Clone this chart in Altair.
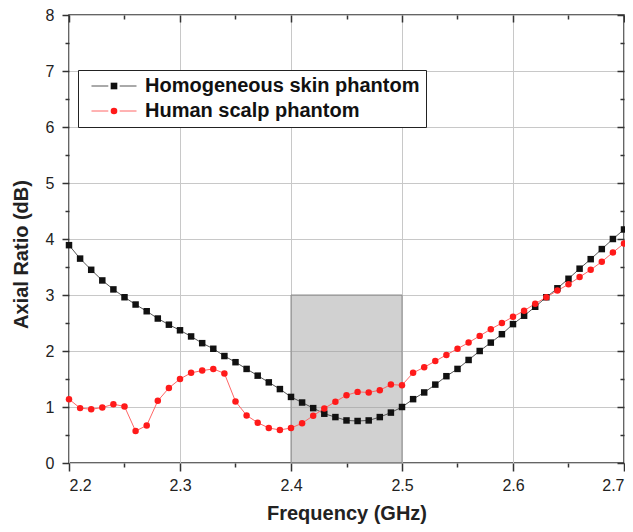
import altair as alt
import pandas as pd

# ---- data ----
freq = [2.20, 2.21, 2.22, 2.23, 2.24, 2.25, 2.26, 2.27, 2.28, 2.29,
        2.30, 2.31, 2.32, 2.33, 2.34, 2.35, 2.36, 2.37, 2.38, 2.39,
        2.40, 2.41, 2.42, 2.43, 2.44, 2.45, 2.46, 2.47, 2.48, 2.49,
        2.50, 2.51, 2.52, 2.53, 2.54, 2.55, 2.56, 2.57, 2.58, 2.59,
        2.60, 2.61, 2.62, 2.63, 2.64, 2.65, 2.66, 2.67, 2.68, 2.69,
        2.70]

homogeneous = [3.89, 3.65, 3.45, 3.26, 3.10, 2.96, 2.83, 2.71, 2.58, 2.47,
               2.37, 2.26, 2.14, 2.04, 1.91, 1.80, 1.68, 1.56, 1.44, 1.32,
               1.18, 1.08, 0.98, 0.88, 0.82, 0.76, 0.75, 0.76, 0.82, 0.90,
               1.00, 1.14, 1.26, 1.40, 1.55, 1.68, 1.84, 2.00, 2.15, 2.30,
               2.48, 2.63, 2.79, 2.96, 3.12, 3.29, 3.47, 3.64, 3.82, 4.00,
               4.17]

scalp = [1.14, 0.98, 0.96, 0.99, 1.05, 1.01, 0.57, 0.67, 1.11, 1.34,
         1.50, 1.61, 1.65, 1.68, 1.60, 1.10, 0.85, 0.72, 0.625, 0.59,
         0.625, 0.71, 0.845, 0.975, 1.095, 1.21, 1.27, 1.26, 1.30, 1.40,
         1.39, 1.61, 1.71, 1.82, 1.93, 2.04, 2.15, 2.27, 2.39, 2.50,
         2.61, 2.72, 2.845, 2.96, 3.08, 3.19, 3.32, 3.45, 3.595, 3.76,
         3.92]

series_names = ["Homogeneous skin phantom", "Human scalp phantom"]
line_colors = ["#555555", "#ff6666"]
marker_colors = ["#111111", "#ff1a1a"]
band_x = [2.4, 2.5]
band_y = [0, 3]

x_major = [2.2, 2.3, 2.4, 2.5, 2.6, 2.7]
x_minor = [2.25, 2.35, 2.45, 2.55, 2.65]
y_major = [0, 1, 2, 3, 4, 5, 6, 7, 8]
y_minor = [0.5, 1.5, 2.5, 3.5, 4.5, 5.5, 6.5, 7.5]

# ---- tables ----
labels = [series_names[0]] * len(freq) + [series_names[1]] * len(freq)
df = pd.DataFrame({
    "freq": freq + freq,
    "ar": homogeneous + scalp,
    "series": labels,
    "curve": labels,
})
band = pd.DataFrame({"x": [band_x[0]], "x2": [band_x[1]],
                     "y": [band_y[0]], "y2": [band_y[1]]})

FONT = "Liberation Sans"
TICK = "#333333"

xs = alt.Scale(domain=[2.2, 2.7], nice=False, zero=False)
ys = alt.Scale(domain=[0, 8], nice=False, zero=False)

common = dict(domain=False, tickColor=TICK, tickWidth=1.5,
              labelFont=FONT, labelFontSize=16, labelColor="#222222",
              titleFont=FONT, titleFontSize=20, titleFontWeight="bold",
              titleColor="#222222")
minor = dict(labels=False, grid=False, title=None, domain=False,
             tickColor=TICK, tickWidth=1.5)

x_bottom = alt.Axis(orient="bottom", values=x_major, format=".1f", tickSize=8,
                    labelPadding=6, grid=True, gridColor="#c8c8c8", gridWidth=1,
                    title="Frequency (GHz)", titleBaseline="alphabetic", titleY=56,
                    **common)
x_bottom_minor = alt.Axis(orient="bottom", values=x_minor, tickSize=4, **minor)
x_top = alt.Axis(orient="top", values=x_major, tickSize=7, offset=-7, **minor)
x_top_minor = alt.Axis(orient="top", values=x_minor, tickSize=4, offset=-4, **minor)

y_left = alt.Axis(orient="left", values=y_major, format="d", tickSize=7,
                  labelPadding=8, grid=True, gridColor="#c8c8c8", gridWidth=1,
                  title="Axial Ratio (dB)", titlePadding=14, titleY=239, **common)
y_left_minor = alt.Axis(orient="left", values=y_minor, tickSize=4, **minor)
y_right = alt.Axis(orient="right", values=y_major, tickSize=7, offset=-7, **minor)
y_right_minor = alt.Axis(orient="right", values=y_minor, tickSize=4, offset=-4, **minor)

# legend: framed white legend with labels and line-segment symbols underneath,
# and an unlabeled marker legend drawn on top at the same spot
seg_path = "M-2.37,0H-0.6M0.6,0H2.37"
legend_common = dict(orient="none", legendX=9, legendY=55, title=None,
                     direction="vertical", symbolOffset=20, labelOffset=21,
                     labelFont=FONT, labelFontSize=20, labelFontWeight="bold",
                     labelLimit=400, rowPadding=5, padding=6,
                     labelExpr="datum.label + '\u00a0\u00a0'")
legend_lines = alt.Legend(symbolType=seg_path, symbolSize=361, symbolStrokeWidth=1,
                          labelColor="#111111", strokeColor="#222222",
                          fillColor="white", **legend_common)
legend_marks = alt.Legend(symbolSize=44, labelOpacity=0, **legend_common)

band_fill = alt.Chart(band).mark_rect(fill="#9a9a9a", opacity=0.45).encode(
    x=alt.X("x:Q", scale=xs, axis=x_bottom),
    x2="x2:Q",
    y=alt.Y("y:Q", scale=ys, axis=y_left),
    y2="y2:Q",
)

band_edge = alt.Chart(band).mark_rect(filled=False, stroke="#8c8c8c", strokeWidth=1).encode(
    x=alt.X("x:Q", scale=xs, axis=x_bottom_minor),
    x2="x2:Q",
    y=alt.Y("y:Q", scale=ys, axis=y_left_minor),
    y2="y2:Q",
)

lines = alt.Chart(df).mark_line(strokeWidth=1).encode(
    x=alt.X("freq:Q", scale=xs, axis=x_top),
    y=alt.Y("ar:Q", scale=ys, axis=y_right),
    stroke=alt.Stroke("curve:N",
                      scale=alt.Scale(range=line_colors),
                      legend=legend_lines),
)

points = alt.Chart(df).mark_point(filled=True, opacity=1, size=42).encode(
    x=alt.X("freq:Q", scale=xs, axis=x_top_minor),
    y=alt.Y("ar:Q", scale=ys, axis=y_right_minor),
    fill=alt.Fill("series:N",
                  scale=alt.Scale(domain=series_names, range=marker_colors),
                  legend=legend_marks),
    shape=alt.Shape("series:N",
                    scale=alt.Scale(domain=series_names, range=["square", "circle"]),
                    legend=legend_marks),
)

chart = alt.layer(band_fill, band_edge, lines, points).resolve_axis(
    x="independent", y="independent"
).properties(
    width=555, height=448,
    autosize=alt.AutoSizeParams(type="none"),
    padding={"left": 61, "top": 7, "right": 1, "bottom": 61},
    background="white",
).configure_view(stroke="#333333", strokeWidth=1.5)

chart.save("out.html", embed_options={"renderer": "svg", "actions": False})
